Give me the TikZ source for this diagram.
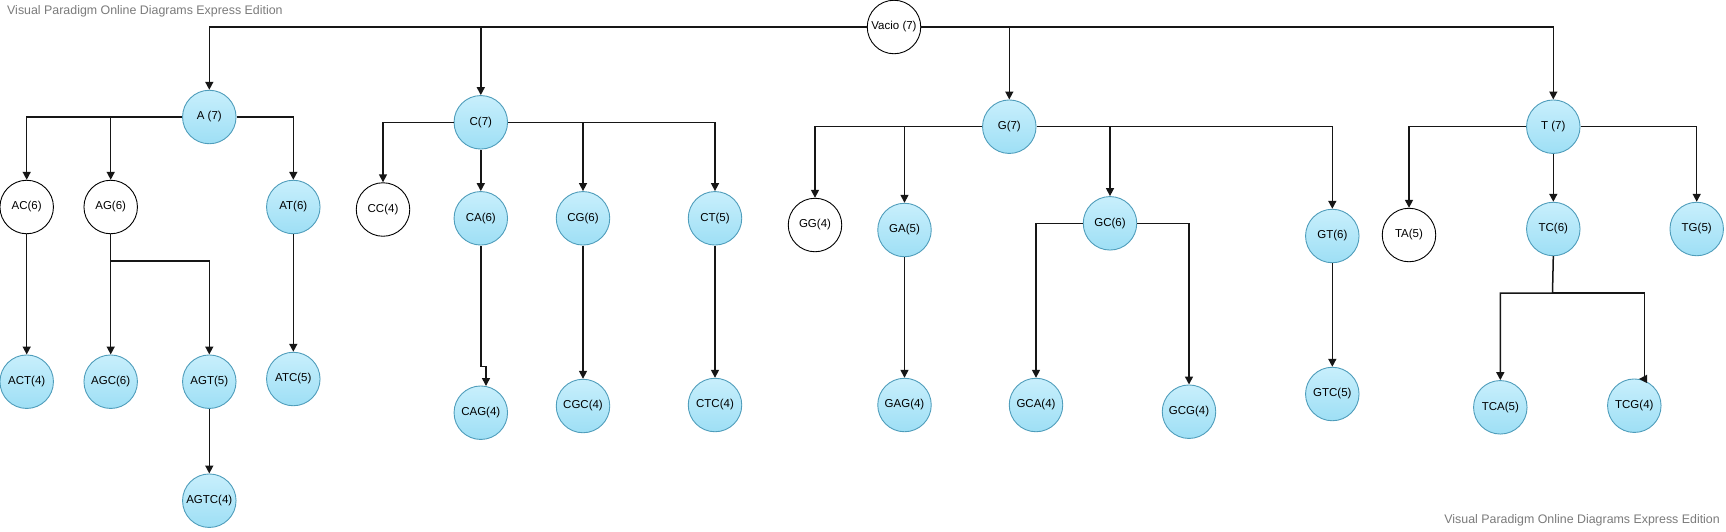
\documentclass[tikz,border=0pt]{standalone}
\usepackage{fontspec}
\setmainfont{Liberation Sans}
\usetikzlibrary{arrows.meta}
\definecolor{nodeline}{HTML}{4F9DBB}
\definecolor{nodetop}{HTML}{C8EFFC}
\definecolor{nodebot}{HTML}{9EDFF5}
\definecolor{wm}{HTML}{7A7A7A}
\definecolor{conn}{HTML}{161616}
\tikzset{
  bnode/.style={circle, minimum size=53.5pt, inner sep=0pt, draw=nodeline, line width=0.9pt,
    top color=nodetop, bottom color=nodebot, font=\fontsize{11.5}{13}\selectfont},
  wnode/.style={circle, minimum size=53.5pt, inner sep=0pt, draw=black, line width=0.9pt,
    fill=white, font=\fontsize{11.5}{13}\selectfont},
  arr/.style={draw=conn, line width=1.5pt, -{Triangle[length=8pt,width=8pt]}},
  wmark/.style={text=wm, font=\fontsize{12.4}{14}\selectfont, inner sep=0pt}
}
\begin{document}
\begin{tikzpicture}[x=1pt,y=-1pt]
\useasboundingbox (0,0) rectangle (1726,531);
% watermarks
\node[wmark, anchor=west] (wm1) at (7,11.7) {Visual Paradigm Online Diagrams Express Edition};
\node[wmark, anchor=east] (wm2) at (1720,520) {Visual Paradigm Online Diagrams Express Edition};
% level 0
\node[wnode] (V) at (894,27) {Vacio (7)};
% level 1
\node[bnode] (A) at (209.3,117) {A (7)};
\node[bnode] (C) at (480.8,122.3) {C(7)};
\node[bnode] (G) at (1009.3,126.7) {G(7)};
\node[bnode] (T) at (1553.3,126.7) {T (7)};
% level 2
\node[wnode] (AC) at (26.7,207) {AC(6)};
\node[wnode] (AG) at (110.7,207) {AG(6)};
\node[bnode] (AT) at (293.3,207) {AT(6)};
\node[wnode] (CC) at (383,209.5) {CC(4)};
\node[bnode] (CA) at (480.8,218.3) {CA(6)};
\node[bnode] (CG) at (583,218.3) {CG(6)};
\node[bnode] (CT) at (715,218.3) {CT(5)};
\node[wnode] (GG) at (815,225) {GG(4)};
\node[bnode] (GA) at (904.5,230) {GA(5)};
\node[bnode] (GC) at (1110,223.3) {GC(6)};
\node[bnode] (GT) at (1332.3,236) {GT(6)};
\node[wnode] (TA) at (1409,235) {TA(5)};
\node[bnode] (TC) at (1553.3,229) {TC(6)};
\node[bnode] (TG) at (1696.7,229) {TG(5)};
% level 3
\node[bnode] (ACT) at (26.7,381.7) {ACT(4)};
\node[bnode] (AGC) at (110.7,381.7) {AGC(6)};
\node[bnode] (AGT) at (209.3,381.7) {AGT(5)};
\node[bnode] (ATC) at (293.3,379) {ATC(5)};
\node[bnode] (CAG) at (480.8,412.7) {CAG(4)};
\node[bnode] (CGC) at (583,406) {CGC(4)};
\node[bnode] (CTC) at (715,405) {CTC(4)};
\node[bnode] (GAG) at (904.5,405) {GAG(4)};
\node[bnode] (GCA) at (1036,405) {GCA(4)};
\node[bnode] (GCG) at (1189,411.7) {GCG(4)};
\node[bnode] (GTC) at (1332.3,394) {GTC(5)};
\node[bnode] (TCA) at (1500.3,407.3) {TCA(5)};
\node[bnode] (TCG) at (1634.3,405.7) {TCG(4)};
% level 4
\node[bnode] (AGTC) at (209.3,500.7) {AGTC(4)};
% junction coordinates
\coordinate (agj) at (110.7,261);
\coordinate (cagj) at (486,366.7);
\coordinate (tcj) at (1552.5,293);
\coordinate (tcgj) at (1644.7,293);
% connectors from root
\draw[arr] (V.west) -| (A);
\draw[arr] (V.west -| C) -- (C);
\draw[arr] (V.east) -| (T);
\draw[arr] (V.east -| G) -- (G);
% A subtree
\draw[arr] (A.west) -| (AC);
\draw[arr] (A.west -| AG) -- (AG);
\draw[arr] (A.east) -| (AT);
\draw[arr] (AC) -- (ACT);
\draw[arr] (AG) -- (AGC);
\draw[arr] (agj) -| (AGT);
\draw[arr] (AT) -- (ATC);
\draw[arr] (AGT) -- (AGTC);
% C subtree
\draw[arr] (C.west) -| (CC);
\draw[arr] (C) -- (CA);
\draw[arr] (C.east) -| (CT);
\draw[arr] (C.east -| CG) -- (CG);
\draw[arr] (CA.south) |- (cagj) -- (cagj |- CAG.79);
\draw[arr] (CG) -- (CGC);
\draw[arr] (CT) -- (CTC);
% G subtree
\draw[arr] (G.west) -| (GG);
\draw[arr] (G.west -| GA) -- (GA);
\draw[arr] (G.east) -| (GT);
\draw[arr] (G.east -| GC) -- (GC);
\draw[arr] (GA) -- (GAG);
\draw[arr] (GC.west) -| (GCA);
\draw[arr] (GC.east) -| (GCG);
\draw[arr] (GT) -- (GTC);
% T subtree
\draw[arr] (T.west) -| (TA);
\draw[arr] (T) -- (TC);
\draw[arr] (T.east) -| (TG);
\draw[arr] (TC.south) -- (tcj) -| (TCA);
\draw[arr] (tcj) -- (tcgj) -- (tcgj |- TCG.80) -- (TCG.80);
\end{tikzpicture}
\end{document}
